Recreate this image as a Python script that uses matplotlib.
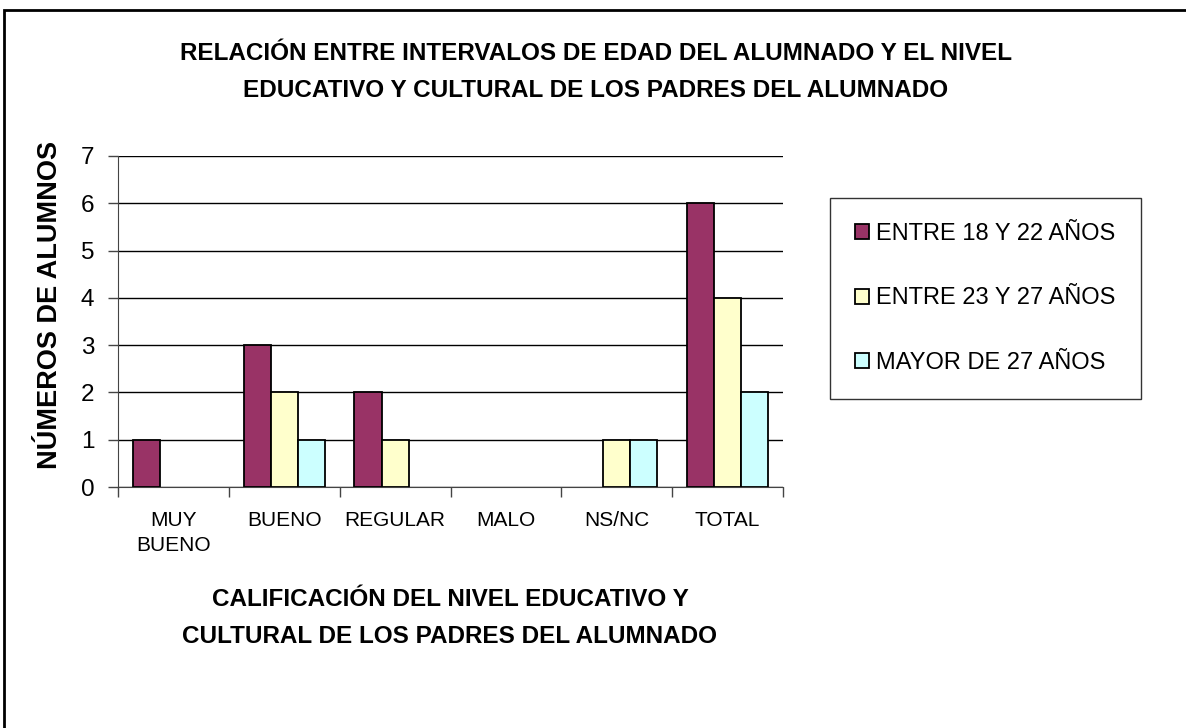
import matplotlib
matplotlib.use("Agg")
import matplotlib.pyplot as plt
import numpy as np
from matplotlib.patches import Rectangle

categories = ["MUY\nBUENO", "BUENO", "REGULAR", "MALO", "NS/NC", "TOTAL"]
series_names = ["ENTRE 18 Y 22 AÑOS", "ENTRE 23 Y 27 AÑOS", "MAYOR DE 27 AÑOS"]
s_18_22 = [1, 3, 2, 0, 0, 6]
s_23_27 = [0, 2, 1, 0, 1, 4]
s_27 = [0, 1, 0, 0, 1, 2]
colors = ["#993366", "#FFFFCC", "#CCFFFF"]
yticks = [0, 1, 2, 3, 4, 5, 6, 7]

plt.rcParams['font.family'] = ['Liberation Sans', 'DejaVu Sans']

W, H = 1186, 728
fig = plt.figure(figsize=(W / 100, H / 100), dpi=100)

# outer border (top & left visible)
fig.patches.append(Rectangle((4 / W, -0.05), 1.2, 1 - 10 / H + 0.05,
                             transform=fig.transFigure, fill=False,
                             edgecolor="black", linewidth=2))

ax = fig.add_axes([118 / W, 1 - 487 / H, (783 - 118) / W, (487 - 156) / H])

x = np.arange(len(categories))
bw = 0.245
series = [s_18_22, s_23_27, s_27]
for i, (vals, name, c) in enumerate(zip(series, series_names, colors)):
    vals = np.asarray(vals, dtype=float)
    mask = vals > 0
    ax.bar((x + (i - 1) * bw)[mask], vals[mask], width=bw, color=c,
           edgecolor="black", linewidth=1.3, label=name, zorder=3)

ax.set_xlim(-0.5, len(categories) - 0.5)
ax.set_ylim(0, 7)
ax.set_yticks(yticks)
ax.set_yticklabels([str(v) for v in yticks], fontsize=17.5)
ax.yaxis.grid(True, color="black", linewidth=1, zorder=0)
ax.set_axisbelow(True)

ax.set_xticks(x)
ax.set_xticklabels(categories, fontsize=15, linespacing=1.4, va="top")
ax.tick_params(axis="x", which="major", length=0, pad=17)
ax.set_xticks(np.arange(-0.5, len(categories)), minor=True)
ax.tick_params(axis="x", which="minor", length=7, width=1, direction="out", color="#444444")
ax.tick_params(axis="y", length=7, width=1, direction="out", pad=10, color="#444444")

for s in ["top", "right"]:
    ax.spines[s].set_visible(False)
ax.spines["left"].set_color("#444444")
ax.spines["bottom"].set_color("#444444")

fig.text(596 / W, 1 - 72 / H,
         "RELACIÓN ENTRE INTERVALOS DE EDAD DEL ALUMNADO Y EL NIVEL\nEDUCATIVO Y CULTURAL DE LOS PADRES DEL ALUMNADO",
         ha="center", va="center", fontsize=17.5, fontweight="bold", linespacing=1.78)

fig.text(450 / W, 1 - 618 / H,
         "CALIFICACIÓN DEL NIVEL EDUCATIVO Y\nCULTURAL DE LOS PADRES DEL ALUMNADO",
         ha="center", va="center", fontsize=17.5, fontweight="bold", linespacing=1.78)

fig.text(50 / W, 1 - 305 / H, "NÚMEROS DE ALUMNOS", rotation=90,
         ha="center", va="center", fontsize=19.5, fontweight="bold")

leg = ax.legend(loc="center", bbox_to_anchor=(985.5 / W, 1 - 298.5 / H),
                bbox_transform=fig.transFigure, fontsize=17, frameon=True,
                fancybox=False, shadow=False, borderpad=1.05, labelspacing=1.8,
                handlelength=0.6, handleheight=0.6, handletextpad=0.3,
                borderaxespad=0)
leg.get_frame().set_edgecolor("black")
leg.get_frame().set_linewidth(1)

fig.savefig("out.png", dpi=100)
